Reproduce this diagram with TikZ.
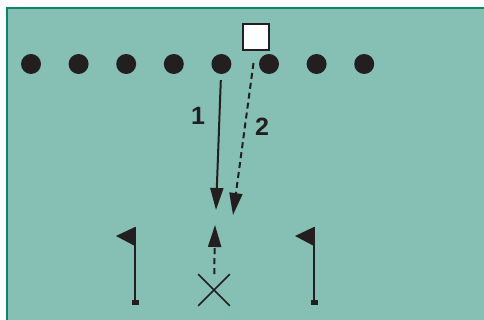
\documentclass[tikz,border=0pt]{standalone}
\usepackage{fontspec}
\setmainfont{Liberation Sans}
\usepackage{tikz}
\usetikzlibrary{positioning,arrows.meta,shapes.misc}

\definecolor{field}{RGB}{134,191,179}
\definecolor{fieldline}{RGB}{12,132,104}
\definecolor{ink}{RGB}{35,31,32}

\begin{document}
\begin{tikzpicture}[
  x=1pt, y=1pt,
  >={Triangle[length=22pt,width=13pt]},
  player/.style={
    circle,
    fill=ink,
    inner sep=0pt,
    minimum size=20pt
  },
  coach/.style={
    draw=ink,
    fill=white,
    line width=2.4pt,
    inner sep=0pt,
    minimum size=26pt
  },
  runner/.style={
    cross out,
    draw=ink,
    line width=1.6pt,
    inner sep=0pt,
    minimum size=30pt
  },
  run/.style={->, ink, line width=2pt},
  pass/.style={->, ink, line width=2pt, dash pattern=on 6pt off 4pt},
  num/.style={font=\fontsize{25}{25}\selectfont\bfseries, text=ink},
  pole/.style={ink, line width=2pt}
]
\useasboundingbox (0,0) rectangle (484,320);
\clip (0,0) rectangle (484,320);
\fill[white] (0,0) rectangle (484,320);
% field
\filldraw[fill=field, draw=fieldline, line width=2.5pt] (7,-10) rectangle (494,312);

% line of players
\foreach \i in {1,...,8}
  \node[player] (p\i) at ({31+47.6*(\i-1)},256) {};
\node[coach] (sq) at (256,283) {};
\node[runner] (x) at (214,30) {};

\coordinate (end1) at (216,110);
\coordinate (end2) at (233,105);
\coordinate (end3) at (215,95);

\draw[run, shorten <=6pt] (p5) -- node[num, pos=0.31, left=10pt] {1} (end1);
\draw[pass] (253.5,257) -- node[num, pos=0.42, right=6pt] {2} (end2);
\draw[pass] (x) -- (end3);

% flags
\foreach \fx in {135,314} {
  \draw[pole] (\fx,17) -- (\fx,93);
  \fill[ink] (\fx-3.5,15) rectangle (\fx+3.5,19.5);
  \fill[ink] (\fx,93) -- (\fx,74) -- (\fx-19,84) -- cycle;
}
\end{tikzpicture}
\end{document}
